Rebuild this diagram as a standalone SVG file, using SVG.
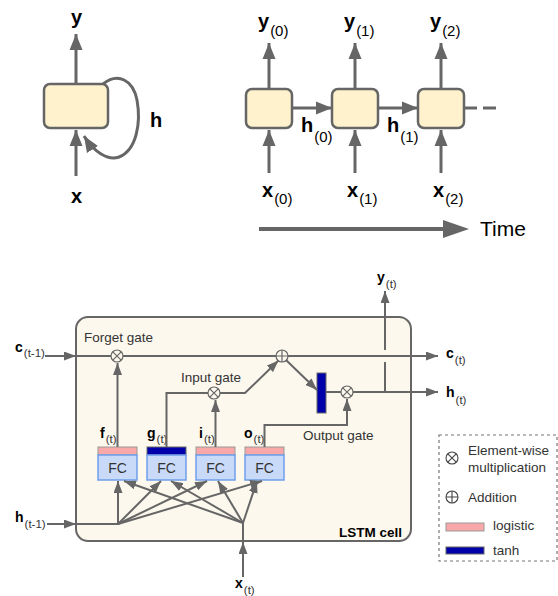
<svg xmlns="http://www.w3.org/2000/svg" width="558" height="596" viewBox="0 0 558 596">
<style>
text{font-family:"Liberation Sans",Arial,sans-serif;fill:#000}
.big{font-size:20px;font-weight:bold}
.bsub{font-size:15px;font-weight:normal}
.lbl{font-size:14px;font-weight:bold}
.sub{font-size:11.5px;font-weight:normal;fill:#333}
.gate{font-size:13.5px;fill:#333}
.fc{font-size:14px;fill:#333;text-anchor:middle}
.cell{fill:#FFF2CC;stroke:#666;stroke-width:2.5}
.wT{fill:none;stroke:#666;stroke-width:3}
.w{fill:none;stroke:#666;stroke-width:2}
.op{fill:#FCF8EE;stroke:#666;stroke-width:1.2}
.opl{stroke:#666;stroke-width:1.2}
.pink{fill:#F8A8A8;stroke:#999;stroke-width:1}
.blue{fill:#0000AA;stroke:#666;stroke-width:1}
.body{fill:#C9DAF8;stroke:#6D9EEB;stroke-width:1.5}
</style>
<defs>
<marker id="aT" markerUnits="userSpaceOnUse" markerWidth="16" markerHeight="14" refX="16" refY="7" orient="auto"><path d="M0,0.5 L16,7 L0,13.5 z" fill="#666"/></marker>
<marker id="aS" markerUnits="userSpaceOnUse" markerWidth="12" markerHeight="9" refX="12" refY="4.5" orient="auto"><path d="M0,0 L12,4.5 L0,9 z" fill="#666"/></marker>
<marker id="aB" markerUnits="userSpaceOnUse" markerWidth="26" markerHeight="18" refX="12" refY="9" orient="auto"><path d="M0,0 L26,9 L0,18 z" fill="#666"/></marker>
</defs>

<!-- Top-left folded RNN -->
<g id="rnn-cell">
<rect class="cell" x="44" y="84" width="64" height="44" rx="6"/>
</g>
<g id="rnn-labels">
<text class="big" x="71" y="23.5">y</text>
<text class="big" x="71" y="203">x</text>
<text class="big" x="150" y="127">h</text>
</g>

<!-- Top-right unrolled RNN -->
<g id="cell0"><rect class="cell" x="246" y="89" width="46" height="39" rx="6"/></g>
<g id="cell1"><rect class="cell" x="332" y="89" width="46" height="39" rx="6"/></g>
<g id="cell2"><rect class="cell" x="418" y="89" width="46" height="39" rx="6"/></g>
<g id="unrolled-labels">
<text class="big" x="258" y="28">y<tspan class="bsub" dx="1" dy="8">(0)</tspan></text>
<text class="big" x="344" y="28">y<tspan class="bsub" dx="1" dy="8">(1)</tspan></text>
<text class="big" x="430" y="28">y<tspan class="bsub" dx="1" dy="8">(2)</tspan></text>
<text class="big" x="262" y="197">x<tspan class="bsub" dx="1" dy="7">(0)</tspan></text>
<text class="big" x="347" y="197">x<tspan class="bsub" dx="1" dy="7">(1)</tspan></text>
<text class="big" x="433" y="197">x<tspan class="bsub" dx="1" dy="7">(2)</tspan></text>
<text class="big" x="301" y="132">h<tspan class="bsub" dx="1" dy="10">(0)</tspan></text>
<text class="big" x="387" y="132">h<tspan class="bsub" dx="1" dy="10">(1)</tspan></text>
<text x="480" y="236" style="font-size:21px">Time</text>
</g>

<!-- LSTM cell -->
<g id="lstm-cell">
<rect x="76" y="317" width="335" height="224" rx="12" fill="#FCF8EE" stroke="#666" stroke-width="2"/>
<text x="402" y="537" style="font-size:13.5px;font-weight:bold;text-anchor:end">LSTM cell</text>
</g>

<g id="fc-f">
<rect class="pink" x="98" y="447" width="39" height="8"/>
<rect class="body" x="98" y="455" width="39" height="25"/>
<text class="fc" x="117.5" y="473">FC</text>
<text class="lbl" x="100" y="438">f<tspan class="sub" dx="1" dy="5">(t)</tspan></text>
</g>
<g id="fc-g">
<rect class="blue" x="147" y="447" width="39" height="8"/>
<rect class="body" x="147" y="455" width="39" height="25"/>
<text class="fc" x="166.5" y="473">FC</text>
<text class="lbl" x="147" y="438">g<tspan class="sub" dx="1" dy="5">(t)</tspan></text>
</g>
<g id="fc-i">
<rect class="pink" x="196" y="447" width="39" height="8"/>
<rect class="body" x="196" y="455" width="39" height="25"/>
<text class="fc" x="215.5" y="473">FC</text>
<text class="lbl" x="199" y="438">i<tspan class="sub" dx="1" dy="5">(t)</tspan></text>
</g>
<g id="fc-o">
<rect class="pink" x="245" y="447" width="39" height="8"/>
<rect class="body" x="245" y="455" width="39" height="25"/>
<text class="fc" x="264.5" y="473">FC</text>
<text class="lbl" x="244" y="438">o<tspan class="sub" dx="1" dy="5">(t)</tspan></text>
</g>

<g id="forget-gate">
<circle class="op" cx="117" cy="356" r="6"/>
<path class="opl" d="M112.8,351.8 L121.2,360.2 M121.2,351.8 L112.8,360.2"/>
<text class="gate" x="84" y="342">Forget gate</text>
</g>
<g id="input-gate">
<circle class="op" cx="214" cy="393" r="6"/>
<path class="opl" d="M209.8,388.8 L218.2,397.2 M218.2,388.8 L209.8,397.2"/>
<text class="gate" x="181" y="382">Input gate</text>
</g>
<g id="add">
<circle class="op" cx="282" cy="356" r="6"/>
<path class="opl" d="M276,356 L288,356 M282,350 L282,362"/>
</g>
<g id="tanh">
<rect class="blue" x="317" y="373" width="9" height="40"/>
</g>
<g id="output-gate">
<circle class="op" cx="347" cy="392" r="6"/>
<path class="opl" d="M342.8,387.8 L351.2,396.2 M351.2,387.8 L342.8,396.2"/>
<text class="gate" x="303" y="440">Output gate</text>
</g>

<g id="lstm-io-labels">
<text class="lbl" x="15" y="352">c<tspan class="sub" dx="1" dy="5">(t-1)</tspan></text>
<text class="lbl" x="15" y="522">h<tspan class="sub" dx="1" dy="6">(t-1)</tspan></text>
<text class="lbl" x="446" y="358">c<tspan class="sub" dx="1" dy="6">(t)</tspan></text>
<text class="lbl" x="446" y="397">h<tspan class="sub" dx="1" dy="7">(t)</tspan></text>
<text class="lbl" x="377" y="282">y<tspan class="sub" dx="1" dy="6">(t)</tspan></text>
<text class="lbl" x="235" y="588">x<tspan class="sub" dx="1" dy="6">(t)</tspan></text>
</g>

<!-- Legend -->
<g id="legend">
<rect x="439" y="435" width="118" height="126" fill="#fff" stroke="#777" stroke-width="1.2" stroke-dasharray="3,3"/>
<circle cx="452" cy="458" r="6" fill="#fff" stroke="#444" stroke-width="1.1"/>
<path d="M447.8,453.8 L456.2,462.2 M456.2,453.8 L447.8,462.2" stroke="#444" stroke-width="1.1"/>
<text class="gate" x="468" y="455">Element-wise</text>
<text class="gate" x="468" y="472">multiplication</text>
<circle cx="452" cy="497" r="6" fill="#fff" stroke="#444" stroke-width="1.1"/>
<path d="M446,497 L458,497 M452,491 L452,503" stroke="#444" stroke-width="1.1"/>
<text class="gate" x="468" y="502">Addition</text>
<rect class="pink" x="446" y="523" width="38" height="8"/>
<text class="gate" x="493" y="530">logistic</text>
<rect class="blue" x="446" y="547" width="38" height="7"/>
<text class="gate" x="493" y="555">tanh</text>
</g>

<!-- Connectors -->
<g id="connectors">
<!-- top-left -->
<line class="wT" x1="76" y1="84" x2="76" y2="34" marker-end="url(#aT)"/>
<line class="wT" x1="76" y1="176" x2="76" y2="130" marker-end="url(#aT)"/>
<path class="wT" d="M103,84 C118,72 133,80 137,100 C141,122 137,150 119,157 C108,161 94,152 84,136" marker-end="url(#aT)"/>
<!-- top-right -->
<line class="wT" x1="269" y1="89" x2="269" y2="43" marker-end="url(#aT)"/>
<line class="wT" x1="355" y1="89" x2="355" y2="43" marker-end="url(#aT)"/>
<line class="wT" x1="441" y1="89" x2="441" y2="43" marker-end="url(#aT)"/>
<line class="wT" x1="269" y1="173" x2="269" y2="130" marker-end="url(#aT)"/>
<line class="wT" x1="355" y1="173" x2="355" y2="130" marker-end="url(#aT)"/>
<line class="wT" x1="441" y1="173" x2="441" y2="130" marker-end="url(#aT)"/>
<line class="wT" x1="292" y1="108" x2="332" y2="108" marker-end="url(#aT)"/>
<line class="wT" x1="378" y1="108" x2="418" y2="108" marker-end="url(#aT)"/>
<line class="wT" x1="464" y1="108" x2="496" y2="108" stroke-dasharray="13,6"/>
<line x1="259" y1="229" x2="455" y2="229" stroke="#666" stroke-width="4" marker-end="url(#aB)"/>
<!-- LSTM -->
<line class="w" x1="45" y1="356" x2="76" y2="356" marker-end="url(#aS)"/>
<line class="w" x1="76" y1="356" x2="111" y2="356"/>
<line class="w" x1="123" y1="356" x2="276" y2="356"/>
<line class="w" x1="288" y1="356" x2="438" y2="356" marker-end="url(#aS)"/>
<line class="w" x1="117.5" y1="447" x2="117.5" y2="363" marker-end="url(#aS)"/>
<polyline class="w" points="166.5,447 166.5,393 208,393"/>
<polyline class="w" points="220,393 245,393 278.5,360.5" marker-end="url(#aS)"/>
<line class="w" x1="215.5" y1="447" x2="215.5" y2="400" marker-end="url(#aS)"/>
<polyline class="w" points="264.5,447 264.5,425 347,425 347,399" marker-end="url(#aS)"/>
<line class="w" x1="286" y1="360" x2="317" y2="390" marker-end="url(#aS)"/>
<line class="w" x1="326" y1="392" x2="341" y2="392"/>
<line class="w" x1="353" y1="392" x2="438" y2="392" marker-end="url(#aS)"/>
<line class="w" x1="385" y1="392" x2="385" y2="362"/>
<line class="w" x1="385" y1="350" x2="385" y2="291" marker-end="url(#aS)"/>
<!-- h(t-1) -->
<line class="w" x1="47" y1="524" x2="76" y2="524" marker-end="url(#aS)"/>
<line class="w" x1="76" y1="524" x2="118" y2="524"/>
<line class="w" x1="118" y1="524" x2="118" y2="481" marker-end="url(#aS)"/>
<line class="w" x1="118" y1="524" x2="161" y2="481" marker-end="url(#aS)"/>
<line class="w" x1="118" y1="524" x2="207" y2="481" marker-end="url(#aS)"/>
<line class="w" x1="118" y1="524" x2="262" y2="481" marker-end="url(#aS)"/>
<!-- x(t) -->
<line class="w" x1="243" y1="577" x2="243" y2="542" marker-end="url(#aS)"/>
<line class="w" x1="243" y1="541" x2="243" y2="523"/>
<line class="w" x1="243" y1="523" x2="124" y2="481" marker-end="url(#aS)"/>
<line class="w" x1="243" y1="523" x2="171" y2="481" marker-end="url(#aS)"/>
<line class="w" x1="243" y1="523" x2="218" y2="481" marker-end="url(#aS)"/>
<line class="w" x1="243" y1="523" x2="257" y2="481" marker-end="url(#aS)"/>
</g>
</svg>
